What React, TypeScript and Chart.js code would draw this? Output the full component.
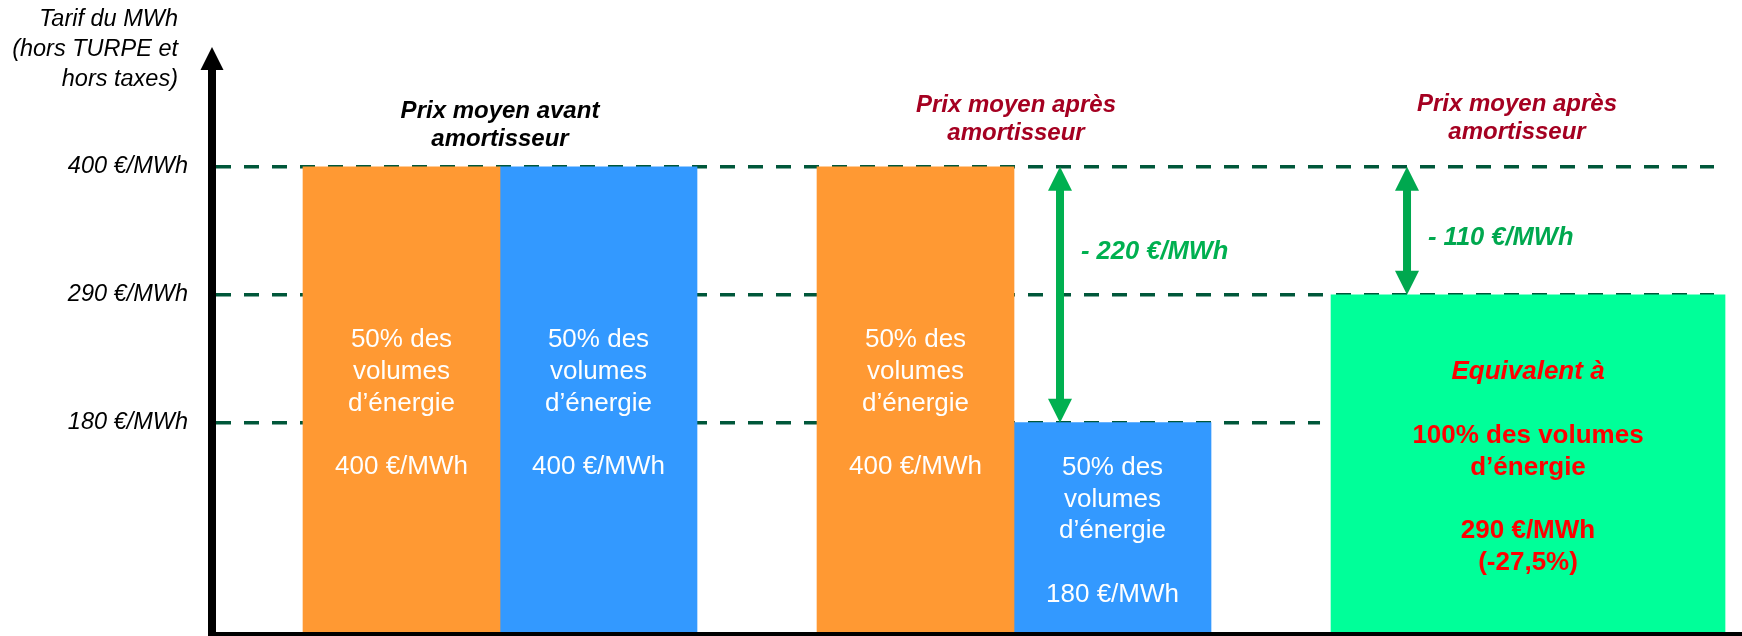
import React, { useEffect, useRef } from 'react';
import { Chart, registerables } from 'chart.js';

Chart.register(...registerables);

// ---------- data ----------
const groupIndex = [0, 1, 2];
const groupTitles = [
  ['Prix moyen avant', 'amortisseur'],
  ['Prix moyen après', 'amortisseur'],
  ['Prix moyen après', 'amortisseur'],
];
const firstHalfValues = [400, 400, null];
const secondHalfValues = [400, 180, null];
const averageValues = [null, null, 290];
const referenceLevels = [400, 290, 180];
const tickValues = [180, 290, 400];
const yTitleLines = ['Tarif du MWh', '(hors TURPE et', 'hors taxes)'];
const halfVolumeLines = ['50% des', 'volumes', 'd’énergie'];
const fullVolumeLines = ['100% des volumes', 'd’énergie'];
const equivalentLine = 'Equivalent à';
const savingsFrom = [400, 400];
const savingsTo = [180, 290];
const unit = '€/MWh';

// ---------- styles ----------
const FONT = '"Liberation Sans", Arial, Helvetica, sans-serif';
const ORANGE = '#FF9933';
const BLUE = '#3399FF';
const MINT = '#00FF99';
const DASH = '#00573A';
const ARROW = ['#00B050', '#00A84F'];
const DARK_RED = '#A50021';
const RED = '#FF0000';
const titleColors = ['#000000', DARK_RED, DARK_RED];
const titleDy = [-55, -61, -62];
const titleDx = [0, 2, -11];
// arrow placement relative to a bar: dataset, point, px offset from bar's left, label offset from arrow tip
const arrowAnchors = [
  { dataset: 1, point: 1, dx: 46, labelDy: 85 },
  { dataset: 2, point: 0, dx: 76, labelDy: 71 },
];

const toPoints = (vals: (number | null)[]) =>
  vals
    .map((v, i) => (v === null ? null : { x: groupIndex[i], y: v }))
    .filter((p) => p !== null) as { x: number; y: number }[];

const fmt = (v: number) => `${v} ${unit}`;

function drawArrowHead(ctx: CanvasRenderingContext2D, x: number, tipY: number, dir: number, w: number, h: number) {
  ctx.beginPath();
  ctx.moveTo(x, tipY);
  ctx.lineTo(x - w / 2, tipY + dir * h);
  ctx.lineTo(x + w / 2, tipY + dir * h);
  ctx.closePath();
  ctx.fill();
}

const overlay = {
  id: 'overlay',
  beforeDatasetsDraw(chart: any) {
    const { ctx, chartArea, scales } = chart;
    const y = scales.y;
    const green = chart.getDatasetMeta(2).data[0];
    const greenLeft = green.x - green.width / 2;
    const greenTop = Math.max(...(averageValues.filter((v) => v !== null) as number[]));
    ctx.save();
    ctx.strokeStyle = DASH;
    ctx.lineWidth = 3.5;
    ctx.setLineDash([15, 13]);
    referenceLevels.forEach((v) => {
      const py = y.getPixelForValue(v);
      const end = v < greenTop ? greenLeft - 11 : chartArea.right - 28;
      ctx.beginPath();
      ctx.moveTo(chartArea.left + 4, py);
      ctx.lineTo(end, py);
      ctx.stroke();
    });
    ctx.restore();
  },
  afterDatasetsDraw(chart: any) {
    const { ctx, chartArea, scales } = chart;
    const x = scales.x;
    const y = scales.y;
    ctx.save();

    // axes
    ctx.fillStyle = '#000000';
    const ax = chartArea.left;
    ctx.fillRect(ax - 4, chartArea.top + 22, 8, chart.height - chartArea.top - 22);
    drawArrowHead(ctx, ax, chartArea.top, 1, 23, 23);
    ctx.fillRect(ax - 4, chartArea.bottom, chart.width - ax + 4, 5);

    // y-axis title
    ctx.font = `italic 23.5px ${FONT}`;
    ctx.textAlign = 'right';
    ctx.textBaseline = 'middle';
    ctx.fillStyle = '#000000';
    yTitleLines.forEach((t, i) => ctx.fillText(t, ax - 34, 19 + i * 30));

    // group titles
    ctx.font = `italic bold 24px ${FONT}`;
    ctx.textAlign = 'center';
    const top400 = y.getPixelForValue(Math.max(...referenceLevels));
    groupTitles.forEach((lines, g) => {
      ctx.fillStyle = titleColors[g];
      const cx = x.getPixelForValue(groupIndex[g]) + titleDx[g];
      lines.forEach((t, i) => ctx.fillText(t, cx, top400 + titleDy[g] + i * 28));
    });

    // text inside half bars
    const lineH = 31.75;
    [0, 1].forEach((di) => {
      const meta = chart.getDatasetMeta(di);
      meta.data.forEach((bar: any, k: number) => {
        const val = chart.data.datasets[di].data[k].y;
        const lines = [...halfVolumeLines, '', fmt(val)];
        const cy = (bar.y + bar.base) / 2 + 4;
        ctx.font = `26px ${FONT}`;
        ctx.fillStyle = '#FFFFFF';
        lines.forEach((t, i) => ctx.fillText(t, bar.x, cy + (i - (lines.length - 1) / 2) * lineH));
      });
    });

    // text inside average bar
    const gMeta = chart.getDatasetMeta(2);
    gMeta.data.forEach((bar: any, k: number) => {
      const val = chart.data.datasets[2].data[k].y;
      const ref = savingsFrom[1];
      const pct = (((val - ref) / ref) * 100).toFixed(1).replace('.', ',');
      const lines = [equivalentLine, '', ...fullVolumeLines, '', fmt(val), `(${pct}%)`];
      const cy = (bar.y + bar.base) / 2 + 4;
      ctx.fillStyle = RED;
      lines.forEach((t, i) => {
        ctx.font = i === 0 ? `italic bold 26px ${FONT}` : `bold 26px ${FONT}`;
        ctx.fillText(t, bar.x, cy + (i - (lines.length - 1) / 2) * lineH);
      });
    });

    // savings arrows
    arrowAnchors.forEach((a, i) => {
      const bar = chart.getDatasetMeta(a.dataset).data[a.point];
      const px = bar.x - bar.width / 2 + a.dx;
      const yTop = y.getPixelForValue(savingsFrom[i]);
      const yBot = y.getPixelForValue(savingsTo[i]);
      ctx.fillStyle = ARROW[i];
      ctx.fillRect(px - 4, yTop + 20, 8, yBot - yTop - 40);
      drawArrowHead(ctx, px, yTop, 1, 24, 24);
      drawArrowHead(ctx, px, yBot, -1, 24, 24);
      ctx.font = `italic bold 25.5px ${FONT}`;
      ctx.textAlign = 'left';
      ctx.fillText(`- ${savingsFrom[i] - savingsTo[i]} ${unit}`, px + 21, yTop + a.labelDy);
      ctx.textAlign = 'center';
    });

    ctx.restore();
  },
};

export default function App() {
  const ref = useRef<HTMLCanvasElement | null>(null);

  useEffect(() => {
    document.body.style.margin = '0';
    document.body.style.overflow = 'hidden';
    const canvas = ref.current;
    if (!canvas) return;
    const chart = new Chart(canvas, {
      type: 'bar',
      data: {
        datasets: [
          { label: '50% (prix plein)', data: toPoints(firstHalfValues), backgroundColor: ORANGE, barThickness: 197 },
          { label: '50% (prix amorti)', data: toPoints(secondHalfValues), backgroundColor: BLUE, barThickness: 197 },
          { label: 'Équivalent', data: toPoints(averageValues), backgroundColor: MINT, barThickness: 394, grouped: false },
        ],
      },
      options: {
        responsive: false,
        devicePixelRatio: 1,
        animation: false,
        layout: { padding: { top: 47, bottom: 4, left: 0, right: 0 } },
        plugins: { legend: { display: false }, tooltip: { enabled: false } },
        scales: {
          x: {
            type: 'linear',
            display: false,
            offset: false,
            min: -0.5603,
            max: 2.4163,
            grid: { display: false },
          },
          y: {
            min: 0,
            max: 503,
            grid: { display: false, drawTicks: false },
            border: { display: false },
            afterBuildTicks: (s: any) => {
              s.ticks = tickValues.map((v) => ({ value: v }));
            },
            afterFit: (s: any) => {
              s.width = 212;
              s.paddingTop = 0;
              s.paddingBottom = 0;
            },
            ticks: {
              padding: 24,
              color: '#000000',
              font: { family: FONT, size: 23.5, style: 'italic' },
              callback: (v: any) => fmt(Number(v)),
            },
          },
        },
      },
      plugins: [overlay],
    } as any);
    return () => chart.destroy();
  }, []);

  return (
    <div style={{ width: 1742, height: 636, background: '#ffffff' }}>
      <canvas ref={ref} width={1742} height={636} style={{ display: 'block' }} />
    </div>
  );
}
